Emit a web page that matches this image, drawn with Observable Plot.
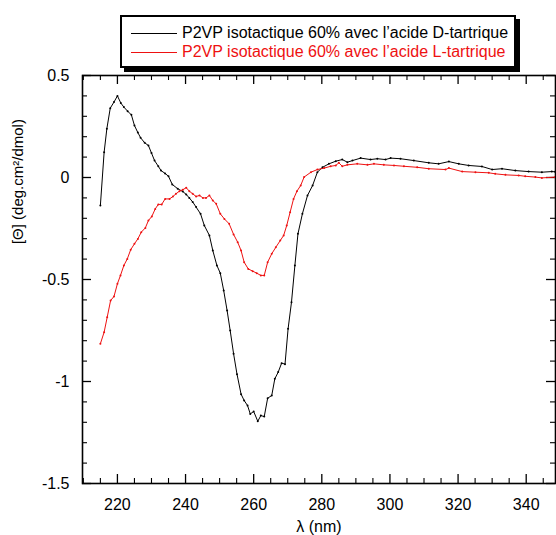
<!DOCTYPE html>
<html>
<head>
<meta charset="utf-8">
<script src="https://cdn.jsdelivr.net/npm/d3@7"></script>
<script src="https://cdn.jsdelivr.net/npm/@observablehq/plot@0.6"></script>
<style>
  html, body { margin: 0; padding: 0; background: #fff; }
  #wrap { position: relative; width: 556px; height: 535px; font-family: "Liberation Sans", Arial, sans-serif; }
  #legend { position: absolute; left: 120px; top: 15px; width: 392px; height: 49px; border: 2px solid #000; background: #fff; box-shadow: 4px 4px 0 #000; }
  .row { position: absolute; left: 0; height: 20px; font-size: 16px; line-height: 20px; white-space: nowrap; }
  .row .sw { position: absolute; left: 9px; top: 10px; width: 46px; height: 1px; }
  .row .lb { position: absolute; left: 60px; top: 0; }
</style>
</head>
<body>
<div id="wrap"></div>
<script>
// ---- data ----
const seriesNames = ["P2VP isotactique 60% avec l\u2019acide D-tartrique", "P2VP isotactique 60% avec l\u2019acide L-tartrique"];
const seriesColors = ["#000000", "#ee1111"];

const dLambda = [215.0,216.1,216.9,217.9,219.0,220.0,221.0,221.9,223.0,224.1,225.0,226.0,226.8,228.0,229.1,230.0,230.9,232.0,232.8,234.0,235.0,236.1,237.7,239.2,240.2,241.1,242.1,243.1,244.4,245.5,247.0,248.0,249.2,250.2,251.2,252.2,253.1,254.1,255.1,256.3,257.2,258.2,259.0,260.0,261.2,262.1,263.1,264.1,265.3,266.2,267.2,268.2,269.2,270.1,271.1,272.1,273.0,274.3,275.8,277.3,278.7,280.2,282.1,284.1,286.0,287.5,289.0,291.4,294.3,296.3,298.7,300.2,303.1,307.0,311.4,314.3,317.3,320.2,323.1,327.0,330.0,332.9,336.8,340.7,344.6,347.5,348.5];
const dTheta = [-0.137,0.124,0.239,0.34,0.37,0.40,0.365,0.345,0.325,0.307,0.255,0.22,0.195,0.17,0.157,0.12,0.083,0.055,0.034,0.02,0.006,-0.034,-0.055,-0.069,-0.083,-0.10,-0.12,-0.145,-0.178,-0.235,-0.284,-0.358,-0.431,-0.469,-0.554,-0.652,-0.75,-0.864,-0.964,-1.062,-1.093,-1.118,-1.159,-1.147,-1.195,-1.167,-1.172,-1.082,-1.069,-0.987,-0.954,-0.91,-0.915,-0.742,-0.611,-0.431,-0.276,-0.178,-0.088,-0.039,0.026,0.05,0.067,0.08,0.088,0.075,0.083,0.095,0.088,0.092,0.088,0.095,0.092,0.083,0.072,0.067,0.078,0.067,0.059,0.054,0.039,0.043,0.034,0.029,0.026,0.029,0.028];

const lLambda = [215.0,216.1,217.0,218.0,219.0,220.0,220.9,221.9,222.9,223.9,225.0,226.0,227.0,228.2,229.1,230.1,231.1,232.0,233.0,234.0,235.3,236.3,237.2,238.2,239.2,240.2,241.1,242.1,243.1,244.1,245.1,246.0,247.0,248.0,249.0,250.2,251.4,252.8,254.1,255.3,256.3,257.2,258.4,259.7,260.9,262.1,263.1,264.1,265.3,266.5,267.8,268.8,269.7,270.7,271.7,272.7,273.8,274.8,276.8,278.7,280.7,282.6,284.1,285.0,286.0,287.5,290.4,293.4,295.3,298.2,301.2,304.1,308.0,311.4,316.3,317.3,321.2,325.1,329.0,330.9,333.9,337.8,339.7,342.7,344.6,348.5];
const lTheta = [-0.815,-0.758,-0.685,-0.603,-0.583,-0.521,-0.48,-0.431,-0.399,-0.354,-0.325,-0.301,-0.268,-0.247,-0.211,-0.191,-0.154,-0.132,-0.132,-0.105,-0.105,-0.093,-0.08,-0.067,-0.06,-0.05,-0.067,-0.08,-0.093,-0.088,-0.1,-0.1,-0.088,-0.113,-0.129,-0.178,-0.203,-0.227,-0.279,-0.317,-0.358,-0.415,-0.448,-0.459,-0.469,-0.48,-0.48,-0.415,-0.374,-0.342,-0.309,-0.284,-0.235,-0.17,-0.105,-0.067,-0.039,0.002,0.026,0.039,0.046,0.055,0.059,0.072,0.055,0.062,0.067,0.062,0.067,0.062,0.059,0.055,0.05,0.043,0.039,0.046,0.029,0.026,0.023,0.018,0.013,0.01,0.006,0.002,-0.002,0.002];

const xMajorTicks = [220, 240, 260, 280, 300, 320, 340];
const xMinorTicks = [210, 215, 225, 230, 235, 245, 250, 255, 265, 270, 275, 285, 290, 295, 305, 310, 315, 325, 330, 335, 345];
const yMajorTicks = [-1.5, -1, -0.5, 0, 0.5];
const yMinorTicks = [-1.4, -1.3, -1.2, -1.1, -0.9, -0.8, -0.7, -0.6, -0.4, -0.3, -0.2, -0.1, 0.1, 0.2, 0.3, 0.4];
const xLabel = "\u03bb (nm)";
const yLabel = "[\u0398] (deg.cm\u00b2/dmol)";

// ---- build ----
const W = 556, H = 535, mt = 75, mb = 52, ml = 82, mr = 1;
const iw = W - ml - mr, ih = H - mt - mb;
const rows = [];
dLambda.forEach((x, i) => rows.push({x, y: dTheta[i], s: seriesNames[0]}));
lLambda.forEach((x, i) => rows.push({x, y: lTheta[i], s: seriesNames[1]}));

const majLen = 9, minLen = 5;
const font = "Liberation Sans, Arial, sans-serif";

const chart = Plot.plot({
  width: W, height: H,
  marginTop: mt, marginBottom: mb, marginLeft: ml, marginRight: mr,
  style: {fontFamily: font, fontSize: "16px", background: "#fff", color: "#000"},
  x: {domain: [209.75, 348.6], label: null},
  y: {domain: [-1.5, 0.5], label: null},
  color: {domain: seriesNames, range: seriesColors},
  marks: [
    Plot.tickX(xMajorTicks, {x: d => d, insetTop: ih - majLen, stroke: "#000", strokeWidth: 1.3}),
    Plot.tickX(xMinorTicks, {x: d => d, insetTop: ih - minLen, stroke: "#000", strokeWidth: 1.1}),
    Plot.tickX(xMajorTicks, {x: d => d, insetBottom: ih - majLen, stroke: "#000", strokeWidth: 1.3}),
    Plot.tickX(xMinorTicks, {x: d => d, insetBottom: ih - minLen, stroke: "#000", strokeWidth: 1.1}),
    Plot.tickY(yMajorTicks, {y: d => d, insetRight: iw - majLen, stroke: "#000", strokeWidth: 1.3}),
    Plot.tickY(yMinorTicks, {y: d => d, insetRight: iw - minLen, stroke: "#000", strokeWidth: 1.1}),
    Plot.tickY(yMajorTicks, {y: d => d, insetLeft: iw - majLen, stroke: "#000", strokeWidth: 1.3}),
    Plot.tickY(yMinorTicks, {y: d => d, insetLeft: iw - minLen, stroke: "#000", strokeWidth: 1.1}),
    Plot.frame({stroke: "#000", strokeWidth: 1.6}),
    Plot.axisX({ticks: xMajorTicks, tickSize: 0, tickPadding: 15, tickFormat: d => String(d), fontSize: 16, label: null}),
    Plot.axisY({ticks: yMajorTicks, tickSize: 0, tickPadding: 13, tickFormat: d => String(d), fontSize: 16, label: null}),
    Plot.line(rows, {x: "x", y: "y", z: "s", stroke: "s", strokeWidth: 1, clip: true}),
    Plot.dot(rows, {x: "x", y: "y", fill: "s", r: 1, clip: true}),
    Plot.text([xLabel], {text: d => d, frameAnchor: "bottom", lineAnchor: "middle", dy: 43, fontSize: 16}),
    Plot.text([yLabel], {text: d => d, y: [-0.02], frameAnchor: "left", textAnchor: "middle", lineAnchor: "middle", rotate: -90, dx: -64, fontSize: 15})
  ]
});

const wrap = document.getElementById("wrap");
wrap.appendChild(chart);

const legend = document.createElement("div");
legend.id = "legend";
seriesNames.forEach((name, i) => {
  const row = document.createElement("div");
  row.className = "row";
  row.style.top = (5.6 + i * 19.4) + "px";
  const sw = document.createElement("div");
  sw.className = "sw";
  sw.style.background = seriesColors[i];
  const lb = document.createElement("div");
  lb.className = "lb";
  lb.style.color = seriesColors[i];
  lb.textContent = name;
  row.appendChild(sw);
  row.appendChild(lb);
  legend.appendChild(row);
});
wrap.appendChild(legend);
</script>
</body>
</html>
